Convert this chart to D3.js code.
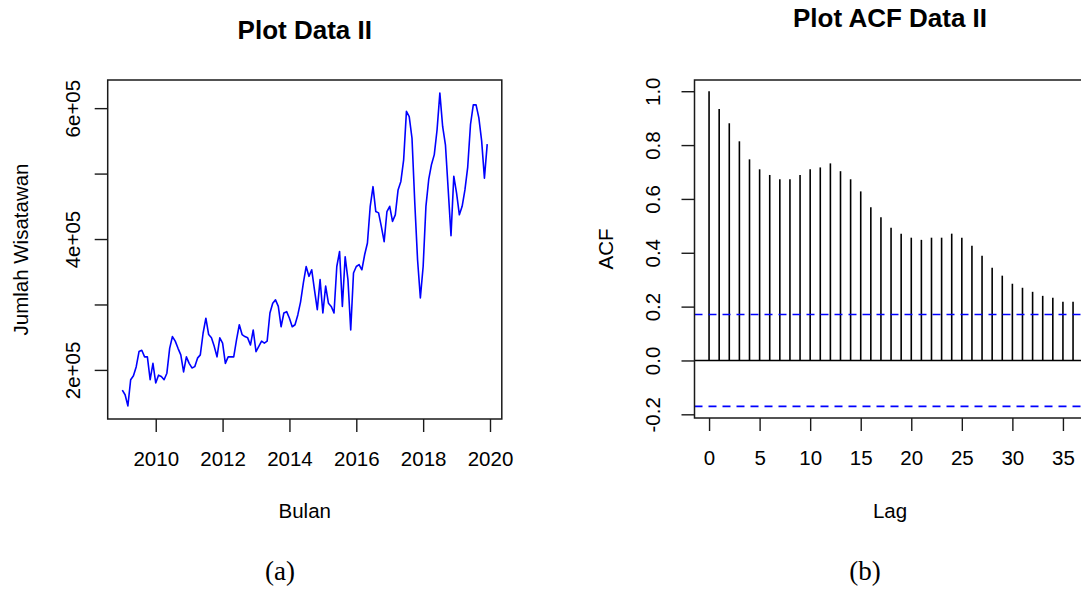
<!DOCTYPE html>
<html>
<head>
<meta charset="utf-8">
<script src="https://cdn.jsdelivr.net/npm/d3@7"></script>
<style>
  html, body { margin: 0; padding: 0; background: #fff; }
  svg { display: block; }
  text { fill: #000; }
</style>
</head>
<body>
<svg id="chart" width="1081" height="589"></svg>
<script>
// ---------- DATA ----------
const startYear = 2009;           // monthly series, Jan 2009 .. Dec 2019
const wisatawan = [
  169000,162000,145000,185000,191000,205000,228000,230000,220000,220000,185000,210000,
  180000,192000,190000,185000,195000,233000,251000,244000,233000,223000,197000,220000,
  210000,203000,205000,218000,223000,256000,279000,254000,249000,236000,220000,249000,
  241000,210000,220000,220000,220000,246000,269000,254000,251000,249000,238000,261000,
  228000,236000,244000,241000,244000,287000,302000,307000,297000,266000,287000,289000,
  279000,266000,269000,284000,304000,333000,358000,343000,353000,322000,292000,338000,
  287000,328000,302000,297000,287000,358000,381000,297000,373000,338000,261000,348000,
  358000,361000,353000,376000,394000,450000,480000,442000,440000,419000,396000,442000,
  450000,427000,437000,475000,488000,521000,595000,587000,554000,455000,368000,310000,
  358000,450000,491000,514000,529000,567000,623000,572000,544000,475000,405000,496000,
  470000,437000,450000,475000,510000,575000,605000,605000,585000,550000,493000,545000
];
const yearTicks = [2010, 2012, 2014, 2016, 2018, 2020];
const leftYTicks = [200000, 300000, 400000, 500000, 600000];
const leftYLabels = {200000: "2e+05", 400000: "4e+05", 600000: "6e+05"};

const acfLags = d3.range(0, 37);
const acfValues = [
  1.000,0.934,0.881,0.814,0.747,0.710,0.689,0.673,0.673,0.689,
  0.710,0.717,0.732,0.703,0.673,0.628,0.569,0.532,0.493,0.471,
  0.456,0.448,0.456,0.456,0.471,0.456,0.426,0.389,0.344,0.315,
  0.285,0.270,0.255,0.240,0.233,0.218,0.218
];
const confLimit = 0.1706;
const lagTicks = [0, 5, 10, 15, 20, 25, 30, 35];
const acfYTicks = [-0.2, 0.0, 0.2, 0.4, 0.6, 0.8, 1.0];

// ---------- DRAW ----------
const SANS = "'Liberation Sans', Arial, sans-serif";
const SERIF = "'Liberation Serif', 'Times New Roman', serif";
const svg = d3.select("#chart");
svg.append("rect").attr("width", 1081).attr("height", 589).attr("fill", "#fff");

const tickFont = 20.5, tickLen = 13, xPad = 19;

// ---- Left panel ----
const L = {left: 107.7, right: 501.8, top: 80, bottom: 419};
const x1 = d3.scaleLinear().domain([2008.563, 2020.353]).range([L.left, L.right]);
const y1 = d3.scaleLinear().domain([125000, 643000]).range([L.bottom, L.top]);

const series = wisatawan.map((v, i) => ({t: startYear + i / 12, v}));
svg.append("path")
  .datum(series)
  .attr("fill", "none")
  .attr("stroke", "#0000ff")
  .attr("stroke-width", 1.6)
  .attr("stroke-linejoin", "round")
  .attr("d", d3.line().x(d => x1(d.t)).y(d => y1(d.v)));

svg.append("rect")
  .attr("x", L.left).attr("y", L.top)
  .attr("width", L.right - L.left).attr("height", L.bottom - L.top)
  .attr("fill", "none").attr("stroke", "#1a1a1a").attr("stroke-width", 1.5);

function styleTicks(g) {
  g.select(".domain").remove();
  g.selectAll("line").attr("stroke", "#1a1a1a").attr("stroke-width", 1.4);
  g.selectAll("text").attr("font-size", tickFont).style("font-family", SANS).attr("fill", "#222");
}

// x axis
const gx1 = svg.append("g").attr("transform", `translate(0,${L.bottom})`);
gx1.call(d3.axisBottom(x1).tickValues(yearTicks).tickFormat(d3.format("d")).tickSize(tickLen).tickPadding(xPad));
styleTicks(gx1);

// y axis
const gy1 = svg.append("g").attr("transform", `translate(${L.left},0)`);
gy1.call(d3.axisLeft(y1).tickValues(leftYTicks).tickFormat(d => leftYLabels[d] || "").tickSize(tickLen));
styleTicks(gy1);
gy1.selectAll("text")
  .attr("x", null).attr("dy", null)
  .attr("text-anchor", "middle")
  .attr("transform", "translate(-28,0) rotate(-90)");

svg.append("text").attr("x", (L.left + L.right) / 2).attr("y", 39)
  .attr("text-anchor", "middle").attr("font-size", 26).attr("font-weight", "bold").attr("fill", "#222")
  .style("font-family", SANS).text("Plot Data II");
svg.append("text").attr("x", (L.left + L.right) / 2).attr("y", 518)
  .attr("text-anchor", "middle").attr("font-size", tickFont).attr("fill", "#222")
  .style("font-family", SANS).text("Bulan");
svg.append("text")
  .attr("transform", `translate(28,${(L.top + L.bottom) / 2}) rotate(-90)`)
  .attr("text-anchor", "middle").attr("font-size", tickFont).attr("fill", "#222")
  .style("font-family", SANS).text("Jumlah Wisatawan");

// ---- Right panel ----
const R = {left: 694.5, right: 1087.6, top: 80, bottom: 418};
const x2 = d3.scaleLinear().domain([-1.44, 37.44]).range([R.left, R.right]);
const y2 = d3.scaleLinear().domain([-0.2137, 1.0417]).range([R.bottom, R.top]);

svg.append("line")
  .attr("x1", R.left).attr("x2", R.right).attr("y1", y2(0)).attr("y2", y2(0))
  .attr("stroke", "#000").attr("stroke-width", 1.4);

svg.append("g").selectAll("line").data(acfLags).join("line")
  .attr("x1", d => x2(d)).attr("x2", d => x2(d))
  .attr("y1", y2(0)).attr("y2", (d, i) => y2(acfValues[i]))
  .attr("stroke", "#000").attr("stroke-width", 1.6);

[confLimit, -confLimit].forEach(c => {
  svg.append("line")
    .attr("x1", R.left).attr("x2", R.right).attr("y1", y2(c)).attr("y2", y2(c))
    .attr("stroke", "#0000ff").attr("stroke-width", 1.6).attr("stroke-dasharray", "8,6");
});

svg.append("rect")
  .attr("x", R.left).attr("y", R.top)
  .attr("width", R.right - R.left).attr("height", R.bottom - R.top)
  .attr("fill", "none").attr("stroke", "#1a1a1a").attr("stroke-width", 1.5);

const gx2 = svg.append("g").attr("transform", `translate(0,${R.bottom})`);
gx2.call(d3.axisBottom(x2).tickValues(lagTicks).tickFormat(d3.format("d")).tickSize(tickLen).tickPadding(xPad));
styleTicks(gx2);

const fmt1 = d3.format(".1f");
const gy2 = svg.append("g").attr("transform", `translate(${R.left},0)`);
gy2.call(d3.axisLeft(y2).tickValues(acfYTicks).tickFormat(d => fmt1(d).replace("\u2212", "-")).tickSize(tickLen));
styleTicks(gy2);
gy2.selectAll("text")
  .attr("x", null).attr("dy", null)
  .attr("text-anchor", "middle")
  .attr("transform", "translate(-35,0) rotate(-90)");

svg.append("text").attr("x", (R.left + R.right) / 2 - 1).attr("y", 27)
  .attr("text-anchor", "middle").attr("font-size", 26).attr("font-weight", "bold").attr("fill", "#222")
  .style("font-family", SANS).text("Plot ACF Data II");
svg.append("text").attr("x", (R.left + R.right) / 2 - 1).attr("y", 518)
  .attr("text-anchor", "middle").attr("font-size", tickFont).attr("fill", "#222")
  .style("font-family", SANS).text("Lag");
svg.append("text")
  .attr("transform", `translate(613,${(R.top + R.bottom) / 2}) rotate(-90)`)
  .attr("text-anchor", "middle").attr("font-size", tickFont).attr("fill", "#222")
  .style("font-family", SANS).text("ACF");

// captions
svg.append("text").attr("x", 280).attr("y", 580)
  .attr("text-anchor", "middle").attr("font-size", 27).style("font-family", SERIF)
  .text("(a)");
svg.append("text").attr("x", 865).attr("y", 580)
  .attr("text-anchor", "middle").attr("font-size", 27).style("font-family", SERIF)
  .text("(b)");
</script>
</body>
</html>
